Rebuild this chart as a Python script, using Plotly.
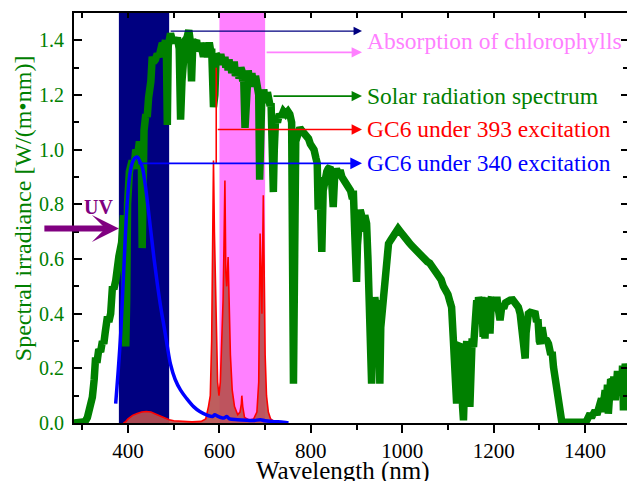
import plotly.graph_objects as go

# ---------------- data ----------------
solar_wl = [282, 300, 306, 311, 316, 322, 326, 329, 332, 336, 340, 344, 347, 350, 353, 355, 358, 362, 364, 366,
            369, 373, 375, 377, 380, 386, 390, 393, 395, 397, 399, 403, 409, 413, 417, 421, 425, 429, 431, 433,
            435, 439, 442, 445, 448, 450, 453, 456, 460, 464, 468, 472, 475, 479, 482, 484, 486, 488, 493, 497,
            500, 504, 508, 512, 515, 518, 521, 525, 529, 533, 536, 539, 542, 546, 550, 553, 555, 559, 561, 563, 565, 567, 569, 571,
            573, 575, 577, 579, 581, 583, 587, 590, 593, 597, 600, 603, 606, 608, 610, 612, 614, 617, 619, 621, 623, 625, 627, 629, 631, 633, 635, 637, 639, 641, 643, 645, 647, 649, 651, 653,
            656, 659, 663, 665, 667, 669, 671, 673, 675, 677, 679, 681, 683, 686, 688, 690, 693, 695, 697, 699, 701, 703, 705, 707, 709, 711, 713, 716, 718, 720,
            723, 727, 731, 735, 740, 745, 750, 754, 758, 760, 762, 764, 767, 770, 773, 776, 780, 784, 788, 791,
            795, 799, 803, 807, 811, 814, 816, 818, 821, 824, 827, 831, 835, 838, 842, 845, 849, 852, 856, 860,
            864, 868, 872, 876, 879, 883, 887, 891, 893, 896, 898, 900, 902, 905, 908, 911, 915, 918, 922, 925,
            928, 931, 933, 935, 937, 940, 943, 945, 947, 949, 951, 953, 956, 959, 962, 965, 968, 970, 975, 980,
            985, 991, 996, 1002, 1007, 1010, 1015, 1020, 1025, 1030, 1035, 1039, 1045, 1050, 1055, 1060, 1065, 1070, 1075, 1080,
            1085, 1090, 1095, 1100, 1105, 1108, 1112, 1115, 1117, 1119, 1121, 1124, 1127, 1130, 1132, 1134, 1136, 1138, 1141, 1143,
            1145, 1148, 1150, 1153, 1156, 1158, 1160, 1163, 1165, 1167, 1170, 1172, 1174, 1177, 1179, 1181, 1184, 1187, 1190, 1192,
            1195, 1199, 1202, 1205, 1207, 1210, 1214, 1218, 1222, 1226, 1230, 1236, 1242, 1248, 1254, 1258, 1261, 1264, 1267, 1269,
            1271, 1274, 1276, 1280, 1285, 1291, 1294, 1297, 1300, 1302, 1306, 1310, 1316, 1320, 1325, 1328, 1331, 1336, 1339, 1342,
            1345, 1349, 1355, 1400, 1404, 1408, 1411, 1414, 1418, 1422, 1426, 1430, 1433, 1436, 1438, 1441, 1444, 1447, 1449, 1451,
            1454, 1456, 1458, 1461, 1463, 1466, 1469, 1471, 1474, 1477, 1480, 1482, 1484, 1486, 1488, 1490, 1492]
solar_val = [0.0, 0.0, 0.005, 0.02, 0.05, 0.095, 0.16, 0.24, 0.22, 0.27, 0.26, 0.30, 0.29, 0.33, 0.36, 0.39, 0.37, 0.40, 0.45, 0.50,
             0.49, 0.52, 0.55, 0.595, 0.61, 0.66, 0.76, 0.50, 0.28, 0.45, 0.80, 0.92, 0.96, 0.93, 1.00, 0.98, 1.03, 1.02, 0.64, 0.90,
             1.07, 1.13, 1.12, 1.19, 1.22, 1.25, 1.34, 1.32, 1.33, 1.35, 1.34, 1.37, 1.39, 1.38, 1.40, 1.36, 1.09, 1.38, 1.425, 1.40,
             1.41, 1.39, 1.41, 1.37, 1.11, 1.25, 1.38, 1.40, 1.41, 1.437, 1.40, 1.25, 1.40, 1.39, 1.40, 1.36, 1.37, 1.39, 1.35, 1.38, 1.34, 1.37, 1.39, 1.38,
             1.35, 1.35, 1.38, 1.38, 1.36, 1.37, 1.156, 1.20, 1.35, 1.34, 1.31, 1.35, 1.32, 1.33, 1.31, 1.34, 1.30, 1.32, 1.29, 1.33, 1.30, 1.315, 1.28, 1.30, 1.31, 1.31, 1.27, 1.29, 1.30, 1.30, 1.26, 1.28, 1.30, 1.29, 1.25, 1.27,
             1.08, 1.26, 1.29, 1.26, 1.27, 1.24, 1.28, 1.25, 1.26, 1.23, 1.27, 1.24, 1.25, 1.20, 0.89, 1.10, 1.21, 1.18, 1.22, 1.19, 1.20, 1.17, 1.21, 1.18, 1.19, 1.16, 1.17, 1.05, 0.845, 1.00,
             1.12, 1.10, 1.13, 1.12, 1.14, 1.13, 1.14, 1.13, 1.10, 0.60, 0.144, 0.50, 1.03, 1.06, 1.08, 1.08, 1.07, 1.06, 1.06, 1.05,
             1.04, 1.02, 1.01, 1.00, 0.97, 0.95, 0.78, 0.90, 0.80, 0.626, 0.85, 0.90, 0.92, 0.93, 0.937, 0.90, 0.79, 0.90, 0.93, 0.91,
             0.925, 0.90, 0.89, 0.88, 0.876, 0.86, 0.85, 0.82, 0.85, 0.70, 0.55, 0.516, 0.65, 0.75, 0.78, 0.76, 0.70, 0.76, 0.73, 0.60,
             0.35, 0.20, 0.144, 0.30, 0.45, 0.46, 0.42, 0.30, 0.45, 0.20, 0.144, 0.35, 0.42, 0.40, 0.473, 0.55, 0.62, 0.656, 0.67, 0.68,
             0.70, 0.711, 0.70, 0.69, 0.68, 0.668, 0.66, 0.65, 0.64, 0.635, 0.625, 0.62, 0.61, 0.60, 0.59, 0.585, 0.575, 0.565, 0.555, 0.54,
             0.525, 0.50, 0.49, 0.47, 0.44, 0.424, 0.30, 0.15, 0.09, 0.071, 0.20, 0.10, 0.28, 0.278, 0.06, 0.01, 0.12, 0.30, 0.30, 0.12,
             0.29, 0.059, 0.20, 0.31, 0.278, 0.33, 0.449, 0.449, 0.40, 0.46, 0.44, 0.38, 0.461, 0.315, 0.44, 0.309, 0.45, 0.40, 0.46, 0.327,
             0.45, 0.449, 0.41, 0.44, 0.461, 0.42, 0.376, 0.43, 0.42, 0.44, 0.445, 0.449, 0.45, 0.44, 0.424, 0.40, 0.351, 0.36, 0.30, 0.236,
             0.33, 0.39, 0.40, 0.405, 0.40, 0.40, 0.37, 0.38, 0.30, 0.29, 0.35, 0.31, 0.303, 0.29, 0.25, 0.26, 0.205, 0.15, 0.12, 0.083,
             0.04, 0.005, 0.003, 0.003, 0.01, 0.02, 0.034, 0.02, 0.034, 0.045, 0.03, 0.06, 0.059, 0.09, 0.04, 0.10, 0.12, 0.08, 0.14, 0.034,
             0.13, 0.16, 0.156, 0.09, 0.17, 0.083, 0.12, 0.19, 0.14, 0.18, 0.10, 0.21, 0.046, 0.18, 0.217, 0.19, 0.205]

gc6_393_wl = [390, 395, 400, 410, 420, 430, 440, 450, 460, 470, 480, 490, 500, 520, 540, 560, 570, 576, 580, 583,
              585, 587, 589, 591, 593, 596, 599, 602, 605, 608, 610, 612, 614, 616, 619, 621, 624, 628, 633, 640,
              645, 648, 649, 651, 655, 665, 675, 682, 686, 689, 691, 693, 696, 698, 700, 703, 707, 712, 720, 730]
gc6_393_val = [0.0, 0.005, 0.015, 0.028, 0.035, 0.04, 0.042, 0.04, 0.033, 0.025, 0.018, 0.012, 0.008, 0.005, 0.004, 0.006, 0.015, 0.06, 0.10, 0.30,
               0.55, 0.96, 0.70, 0.50, 0.30, 0.15, 0.10, 0.15, 0.30, 0.45, 0.65, 0.887, 0.55, 0.50, 0.607, 0.40, 0.25, 0.12, 0.06, 0.03,
               0.04, 0.07, 0.10, 0.06, 0.02, 0.01, 0.015, 0.04, 0.15, 0.693, 0.45, 0.40, 0.833, 0.45, 0.25, 0.10, 0.04, 0.015, 0.005, 0.0]

gc6_340_wl = [373, 378, 384, 391, 398, 404, 409, 414, 420, 425, 431, 437, 442, 450, 457, 464, 471, 479, 486, 493,
              503, 515, 528, 544, 557, 574, 585, 590, 595, 603, 610, 616, 622, 640, 661, 675, 690, 700, 720, 740, 751]
gc6_340_val = [0.071, 0.18, 0.327, 0.571, 0.80, 0.91, 0.95, 0.968, 0.973, 0.96, 0.937, 0.88, 0.815, 0.70, 0.60, 0.51, 0.43, 0.351, 0.28, 0.215,
               0.16, 0.12, 0.09, 0.059, 0.042, 0.028, 0.024, 0.030, 0.026, 0.020, 0.018, 0.024, 0.015, 0.012, 0.010, 0.009, 0.012, 0.008, 0.005, 0.003, 0.0]

blue_band = [380, 490]
pink_band = [600, 700]

labels = ["Absorption of chlorophylls", "Solar radiation spectrum",
          "GC6 under 393 excitation", "GC6 under 340 excitation"]

FONT = "Liberation Serif"
NAVY = "#000080"
PINK = "#ff80ff"
GREEN = "#008000"
RED = "#ff0000"
BLUE = "#0000ff"
PURPLE = "#800080"

fig = go.Figure()

fig.add_trace(go.Scatter(x=gc6_393_wl, y=gc6_393_val, mode="lines", fill="tozeroy",
                         fillcolor="rgba(185,80,80,0.92)", line=dict(color=RED, width=1.6),
                         showlegend=False))
fig.add_trace(go.Scatter(x=solar_wl, y=solar_val, mode="lines",
                         line=dict(color=GREEN, width=7.5), showlegend=False))
fig.add_trace(go.Scatter(x=gc6_340_wl, y=gc6_340_val, mode="lines", line_shape="spline",
                         line=dict(color=BLUE, width=3.5), showlegend=False))
# dummy trace to create mirrored top/right axes
fig.add_trace(go.Scatter(x=[None], y=[None], xaxis="x2", yaxis="y2", showlegend=False))

shapes = [
    dict(type="rect", xref="x", yref="paper", x0=blue_band[0], x1=blue_band[1], y0=0, y1=1,
         fillcolor=NAVY, line_width=0, layer="below"),
    dict(type="rect", xref="x", yref="paper", x0=pink_band[0], x1=pink_band[1], y0=0, y1=1,
         fillcolor=PINK, line_width=0, layer="below"),
    dict(type="line", xref="x", yref="y", x0=593, x1=593, y0=1.30, y1=0.95,
         line=dict(color=RED, width=1.6)),
]

X_HEAD = 912
X_TEXT = 918
anns = []
# arrows
for (x0, y0, col, w) in [(blue_band[1], 1.434, NAVY, 1.3), (pink_band[1], 1.356, PINK, 1.6),
                         (715, 1.196, GREEN, 1.6), (593, 1.074, RED, 1.6), (419, 0.950, BLUE, 1.8)]:
    anns.append(dict(x=X_HEAD, y=y0, ax=x0, ay=y0, xref="x", yref="y", axref="x", ayref="y",
                     text="", showarrow=True, arrowhead=2, arrowsize=1.3, arrowwidth=w,
                     arrowcolor=col, standoff=0, startstandoff=0))
for txt, yv, col in zip(labels, [1.396, 1.196, 1.074, 0.950], [PINK, GREEN, RED, BLUE]):
    anns.append(dict(x=X_TEXT, y=yv, xref="x", yref="y", text=txt, showarrow=False,
                     xanchor="left", yanchor="middle", font=dict(family=FONT, size=23.5, color=col)))
# UV arrow
anns.append(dict(x=blue_band[0], y=0.712, xref="x", yref="y", ax=-76, ay=0, text="",
                 showarrow=True, arrowhead=3, arrowsize=0.75, arrowwidth=6, arrowcolor=PURPLE,
                 standoff=0))
anns.append(dict(x=0.0434, y=0.527, xref="paper", yref="paper", text="<b>UV</b>", showarrow=False,
                 xanchor="center", yanchor="middle", font=dict(family=FONT, size=20, color=PURPLE)))
# axis titles
anns.append(dict(x=-0.0922, y=0.524, xref="paper", yref="paper", text="Spectral irradiance [W/(m\u2022nm)]",
                 textangle=-90, showarrow=False, xanchor="center", yanchor="middle",
                 font=dict(family=FONT, size=24, color=GREEN)))
anns.append(dict(x=0.486, y=-0.118, xref="paper", yref="paper", text="Wavelength (nm)",
                 showarrow=False, xanchor="center", yanchor="middle",
                 font=dict(family=FONT, size=25, color="black")))

XR = [281.8, 1491.8]
YR = [0, 1.5]

fig.update_layout(
    width=627, height=481,
    margin=dict(l=74, r=0, t=13, b=58),
    paper_bgcolor="white", plot_bgcolor="white",
    shapes=shapes, annotations=anns, showlegend=False,
    xaxis=dict(range=XR, showgrid=False, zeroline=False, showline=True, linecolor="black", linewidth=2,
               ticks="outside", tick0=0, dtick=200, ticklen=8, tickwidth=2, tickcolor="black",
               minor=dict(dtick=100, tick0=0, ticklen=5, tickwidth=2, tickcolor="black", ticks="outside"),
               tickfont=dict(family=FONT, size=21, color="black")),
    yaxis=dict(range=YR, showgrid=False, zeroline=False, showline=True, linecolor="black", linewidth=2,
               ticks="inside", tick0=0, dtick=0.2, ticklen=8, tickwidth=2, tickcolor="black",
               tickformat=".1f", ticklabelstandoff=4,
               minor=dict(dtick=0.1, tick0=0, ticklen=5, tickwidth=2, tickcolor="black", ticks="inside"),
               tickfont=dict(family=FONT, size=20, color=GREEN)),
    xaxis2=dict(range=XR, overlaying="x", side="top", anchor="y2", showgrid=False, zeroline=False,
                showline=True, linecolor="black", linewidth=2, ticks="inside", tick0=0, dtick=100,
                ticklen=5, tickwidth=2, tickcolor="black", showticklabels=False),
    yaxis2=dict(range=YR, overlaying="y", side="right", anchor="x2", showgrid=False, zeroline=False,
                showline=True, linecolor="black", linewidth=2, ticks="inside", tick0=0, dtick=0.2,
                ticklen=6, tickwidth=2, tickcolor="black", showticklabels=False,
                minor=dict(dtick=0.1, tick0=0, ticklen=4, tickwidth=2, tickcolor="black", ticks="inside")),
)

fig.write_html("out.html")
